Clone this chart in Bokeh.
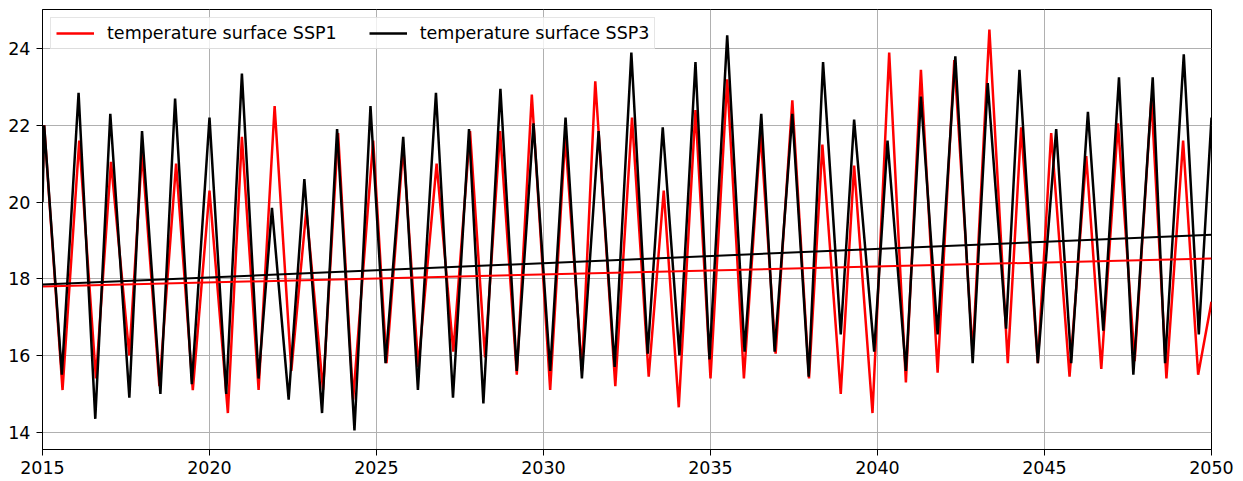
import numpy as np
from bokeh.plotting import figure
from bokeh.models import Range1d, FixedTicker, Legend, LegendItem, ColumnDataSource
from bokeh.embed import file_html
from bokeh.resources import INLINE

# --- data (seasonal extremes, decimal years) ---
ssp1_years = [2015.0, 2015.05, 2015.6, 2016.1, 2016.6, 2017.05, 2017.6, 2017.98, 2018.5, 2019.0,
              2019.5, 2020.0, 2020.55, 2020.97, 2021.47, 2021.95, 2022.45, 2022.9, 2023.4, 2023.85,
              2024.3, 2024.9, 2025.3, 2025.8, 2026.25, 2026.8, 2027.3, 2027.8, 2028.25, 2028.7,
              2029.2, 2029.65, 2030.2, 2030.65, 2031.15, 2031.55, 2032.15, 2032.65, 2033.15, 2033.6,
              2034.05, 2034.55, 2035.0, 2035.5, 2036.0, 2036.5, 2036.95, 2037.45, 2037.95, 2038.35,
              2038.9, 2039.3, 2039.85, 2040.35, 2040.85, 2041.3, 2041.8, 2042.3, 2042.85, 2043.35,
              2043.9, 2044.3, 2044.8, 2045.2, 2045.75, 2046.25, 2046.7, 2047.2, 2047.7, 2048.2,
              2048.65, 2049.15, 2049.6, 2050.0]
ssp1_temp = [20.5, 22.0, 15.1, 21.6, 15.4, 21.05, 16.0, 21.3, 15.2, 21.0,
             15.1, 20.3, 14.5, 21.7, 15.1, 22.5, 15.6, 19.8, 15.1, 21.8,
             14.85, 21.6, 15.8, 21.45, 15.7, 21.0, 16.1, 21.85, 15.95, 21.85,
             15.5, 22.8, 15.1, 21.7, 15.6, 23.15, 15.2, 22.2, 15.45, 20.3,
             14.65, 22.4, 15.4, 23.2, 15.4, 21.8, 16.05, 22.65, 15.4, 21.5,
             15.0, 20.95, 14.5, 23.9, 15.3, 23.45, 15.55, 23.7, 16.05, 24.5,
             15.8, 21.95, 15.8, 21.8, 15.45, 21.2, 15.65, 22.05, 15.85, 22.7,
             15.4, 21.6, 15.5, 17.4]

ssp3_years = [2015.0, 2015.05, 2015.58, 2016.08, 2016.58, 2017.03, 2017.6, 2017.98, 2018.53, 2018.97,
              2019.47, 2020.0, 2020.5, 2020.97, 2021.47, 2021.87, 2022.37, 2022.84, 2023.37, 2023.82,
              2024.34, 2024.82, 2025.27, 2025.8, 2026.24, 2026.78, 2027.29, 2027.77, 2028.2, 2028.71,
              2029.2, 2029.7, 2030.2, 2030.66, 2031.15, 2031.65, 2032.13, 2032.63, 2033.12, 2033.57,
              2034.07, 2034.55, 2034.97, 2035.5, 2036.02, 2036.52, 2036.92, 2037.45, 2037.94, 2038.37,
              2038.9, 2039.3, 2039.9, 2040.3, 2040.85, 2041.3, 2041.8, 2042.33, 2042.85, 2043.3,
              2043.85, 2044.25, 2044.8, 2045.35, 2045.8, 2046.3, 2046.76, 2047.23, 2047.66, 2048.24,
              2048.61, 2049.17, 2049.62, 2050.0]
ssp3_temp = [20.0, 22.0, 15.5, 22.85, 14.35, 22.3, 14.9, 21.85, 15.0, 22.7,
             15.25, 22.2, 15.0, 23.35, 15.4, 19.85, 14.85, 20.6, 14.5, 21.9,
             14.05, 22.5, 15.8, 21.7, 15.1, 22.85, 14.9, 21.9, 14.75, 22.95,
             15.6, 22.05, 15.6, 22.2, 15.4, 21.85, 15.7, 23.9, 16.05, 21.95,
             16.0, 23.65, 15.9, 24.35, 16.1, 22.3, 16.1, 22.3, 15.45, 23.65,
             16.55, 22.15, 16.1, 21.6, 15.6, 22.75, 16.55, 23.8, 15.8, 23.1,
             16.7, 23.45, 15.8, 21.9, 15.8, 22.35, 16.65, 23.25, 15.5, 23.25,
             15.8, 23.85, 16.55, 22.2]

trend_years = [2015.0, 2050.0]
ssp1_trend = [17.80, 18.53]
ssp3_trend = [17.85, 19.15]

x_ticks = [2015, 2020, 2025, 2030, 2035, 2040, 2045, 2050]
y_ticks = [14, 16, 18, 20, 22, 24]

labels = ["temperature surface SSP1", "temperature surface SSP3"]

FONT = "DejaVu Sans"
FSIZE = "17.5px"

p = figure(width=1243, height=481, output_backend="svg", toolbar_location=None,
           x_range=Range1d(2015, 2050), y_range=Range1d(13.55, 25.02),
           min_border_left=42, min_border_top=9, min_border_right=32, min_border_bottom=32)

p.background_fill_color = "white"
p.border_fill_color = "white"
p.outline_line_color = "black"
p.outline_line_width = 1
p.outline_line_alpha = 1

for ax in (p.xaxis, p.yaxis):
    ax.axis_line_color = "black"
    ax.major_tick_line_color = "black"
    ax.major_tick_out = 6
    ax.major_tick_in = 0
    ax.minor_tick_line_color = None
    ax.major_label_text_font = FONT
    ax.major_label_text_font_size = FSIZE
    ax.major_label_text_color = "black"
p.xaxis.major_label_standoff = 5
p.yaxis.major_label_standoff = 6
p.xaxis.ticker = FixedTicker(ticks=x_ticks)
p.yaxis.ticker = FixedTicker(ticks=y_ticks)
p.xaxis.major_label_overrides = {t: str(t) for t in x_ticks}

p.grid.grid_line_color = "#b0b0b0"
p.grid.grid_line_width = 1
p.xgrid.ticker = FixedTicker(ticks=x_ticks)
p.ygrid.ticker = FixedTicker(ticks=y_ticks)

s1 = ColumnDataSource(dict(x=ssp1_years, y=ssp1_temp))
s3 = ColumnDataSource(dict(x=ssp3_years, y=ssp3_temp))
r1 = p.line("x", "y", source=s1, line_color="#ff0000", line_width=2.5)
r3 = p.line("x", "y", source=s3, line_color="black", line_width=2.5)
p.line(trend_years, ssp1_trend, line_color="#ff0000", line_width=2)
p.line(trend_years, ssp3_trend, line_color="black", line_width=2)

legend = Legend(items=[LegendItem(label=labels[0], renderers=[r1]),
                       LegendItem(label=labels[1], renderers=[r3])],
                location="top_left", orientation="horizontal",
                margin=8, padding=5, spacing=32,
                glyph_width=38, glyph_height=18, label_standoff=13,
                label_text_font=FONT, label_text_font_size=FSIZE,
                label_text_color="black",
                border_line_color="#cccccc", border_line_width=1,
                background_fill_color="white", background_fill_alpha=0.8)
p.add_layout(legend, "center")

open("out.html", "w").write(file_html(p, INLINE))
